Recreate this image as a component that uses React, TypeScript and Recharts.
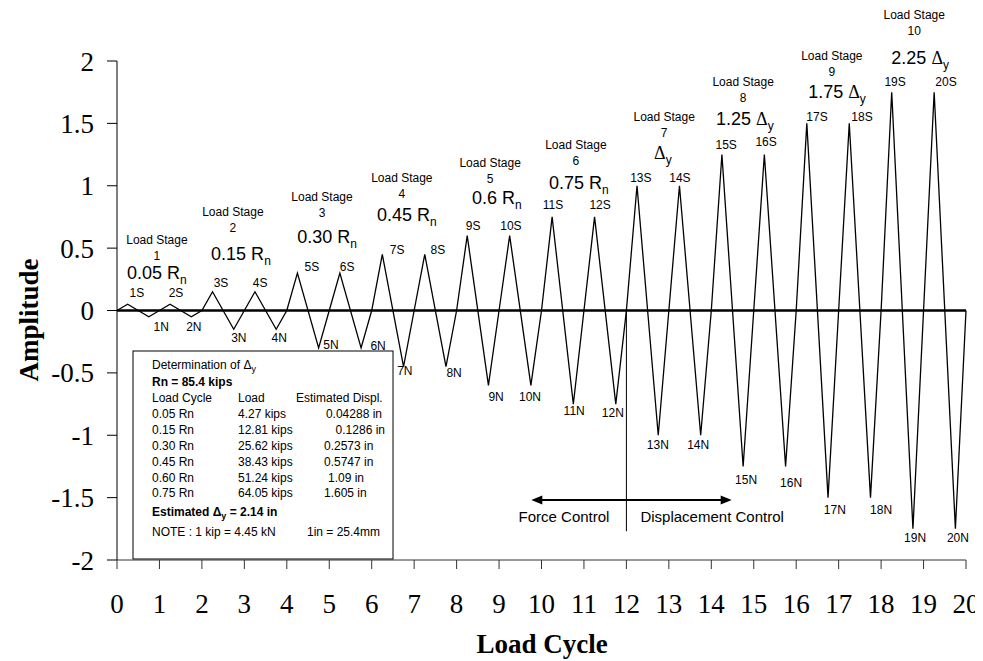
import React from 'react';
import {
  ComposedChart,
  Line,
  XAxis,
  YAxis,
  ReferenceLine,
  ReferenceDot,
  Customized,
} from 'recharts';

const SANS = '"Liberation Sans", Arial, sans-serif';
const SERIF = '"Liberation Serif", "Times New Roman", serif';

// Peak amplitude of each load cycle (1..20)
const cycleAmplitudes = [
  0.05, 0.05, 0.15, 0.15, 0.3, 0.3, 0.45, 0.45, 0.6, 0.6, 0.75, 0.75, 1, 1,
  1.25, 1.25, 1.5, 1.5, 1.75, 1.75,
];

const xTicks = [0, 1, 2, 3, 4, 5, 6, 7, 8, 9, 10, 11, 12, 13, 14, 15, 16, 17, 18, 19, 20];
const yTicks = [-2, -1.5, -1, -0.5, 0, 0.5, 1, 1.5, 2];

// Peak (S) label anchors
const peakLabels = [
  { t: '1S', x: 0.47, y: 0.144 },
  { t: '2S', x: 1.39, y: 0.144 },
  { t: '3S', x: 2.45, y: 0.225 },
  { t: '4S', x: 3.37, y: 0.225 },
  { t: '5S', x: 4.59, y: 0.353 },
  { t: '6S', x: 5.42, y: 0.353 },
  { t: '7S', x: 6.6, y: 0.49 },
  { t: '8S', x: 7.56, y: 0.49 },
  { t: '9S', x: 8.39, y: 0.68 },
  { t: '10S', x: 9.28, y: 0.68 },
  { t: '11S', x: 10.27, y: 0.85 },
  { t: '12S', x: 11.38, y: 0.85 },
  { t: '13S', x: 12.34, y: 1.067 },
  { t: '14S', x: 13.26, y: 1.067 },
  { t: '15S', x: 14.35, y: 1.33 },
  { t: '16S', x: 15.29, y: 1.356 },
  { t: '17S', x: 16.49, y: 1.557 },
  { t: '18S', x: 17.55, y: 1.557 },
  { t: '19S', x: 18.33, y: 1.838 },
  { t: '20S', x: 19.53, y: 1.838 },
];

// Trough (N) label anchors
const troughLabels = [
  { t: '1N', x: 1.04, y: -0.128 },
  { t: '2N', x: 1.81, y: -0.128 },
  { t: '3N', x: 2.87, y: -0.217 },
  { t: '4N', x: 3.82, y: -0.217 },
  { t: '5N', x: 5.04, y: -0.273 },
  { t: '6N', x: 6.15, y: -0.281 },
  { t: '7N', x: 6.78, y: -0.482 },
  { t: '8N', x: 7.94, y: -0.498 },
  { t: '9N', x: 8.93, y: -0.69 },
  { t: '10N', x: 9.73, y: -0.69 },
  { t: '11N', x: 10.77, y: -0.8 },
  { t: '12N', x: 11.68, y: -0.82 },
  { t: '13N', x: 12.74, y: -1.075 },
  { t: '14N', x: 13.69, y: -1.075 },
  { t: '15N', x: 14.82, y: -1.356 },
  { t: '16N', x: 15.88, y: -1.38 },
  { t: '17N', x: 16.91, y: -1.597 },
  { t: '18N', x: 18.0, y: -1.597 },
  { t: '19N', x: 18.8, y: -1.82 },
  { t: '20N', x: 19.81, y: -1.82 },
];

const stageNumbers = ['1', '2', '3', '4', '5', '6', '7', '8', '9', '10'];
const stageValueMain = ['0.05 R', '0.15 R', '0.30 R', '0.45 R', '0.6 R', '0.75 R', '', '1.25 ', '1.75 ', '2.25 '];
const stageValueDelta = [false, false, false, false, false, false, true, true, true, true];
const stageValueSub = ['n', 'n', 'n', 'n', 'n', 'n', 'y', 'y', 'y', 'y'];
const stageTitleX = [0.94, 2.73, 4.83, 6.71, 8.79, 10.81, 12.89, 14.75, 16.84, 18.78];
const stageTitleY = [0.57, 0.795, 0.915, 1.067, 1.188, 1.332, 1.557, 1.838, 2.039, 2.368];
const stageValueX = [0.94, 2.92, 4.95, 6.83, 8.95, 10.88, 12.86, 14.79, 16.96, 18.92];
const stageValueY = [0.305, 0.457, 0.594, 0.77, 0.907, 1.027, 1.268, 1.541, 1.758, 2.03];

const tableCycles = ['0.05 Rn', '0.15 Rn', '0.30 Rn', '0.45 Rn', '0.60 Rn', '0.75 Rn'];
const tableLoads = ['4.27 kips', '12.81 kips', '25.62 kips', '38.43 kips', '51.24 kips', '64.05 kips'];
const tableDispl = ['0.04288 in', '0.1286 in', '0.2573 in', '0.5747 in', '1.09 in', '1.605 in'];

const wave: { x: number; y: number }[] = [{ x: 0, y: 0 }];
cycleAmplitudes.forEach((a, i) => {
  wave.push({ x: i + 0.25, y: a }, { x: i + 0.75, y: -a }, { x: i + 1, y: 0 });
});

const smallText = (t: string, size = 12) => (p: any) => (
  <text
    x={p.cx}
    y={p.cy + size * 0.36}
    textAnchor="middle"
    fontSize={size}
    fontFamily={SANS}
    fill="#000"
  >
    {t}
  </text>
);

const stageTitleShape = (n: string) => (p: any) => (
  <g>
    <text x={p.cx} y={p.cy + 4.3} textAnchor="middle" fontSize={12} fontFamily={SANS} fill="#000">
      Load Stage
    </text>
    <text x={p.cx} y={p.cy + 20.3} textAnchor="middle" fontSize={12} fontFamily={SANS} fill="#000">
      {n}
    </text>
  </g>
);

const stageValueShape = (i: number) => (p: any) => (
  <text x={p.cx} y={p.cy + 6.4} textAnchor="middle" fontSize={18} fontFamily={SANS} fill="#000">
    {stageValueMain[i]}
    {stageValueDelta[i] ? <tspan fontFamily={SERIF}>Δ</tspan> : null}
    <tspan fontSize={12} dy={5}>
      {stageValueSub[i]}
    </tspan>
  </text>
);

const arrowShape = (p: any) => {
  const { x1, y1, x2, y2 } = p;
  const h = 11;
  const w = 4.5;
  return (
    <g>
      <line x1={x1 + h - 2} y1={y1} x2={x2 - h + 2} y2={y2} stroke="#000" strokeWidth={2} />
      <polygon points={`${x1},${y1} ${x1 + h},${y1 - w} ${x1 + h},${y1 + w}`} fill="#000" />
      <polygon points={`${x2},${y2} ${x2 - h},${y2 - w} ${x2 - h},${y2 + w}`} fill="#000" />
    </g>
  );
};

const Overlay = () => {
  const rowY = [406, 422, 438, 454, 470, 485];
  const displX = [374, 377, 316, 316, 320, 316];
  const displAnchor = ['end', 'end', 'start', 'start', 'start', 'start'];
  const base = 4.3;
  return (
    <g>
      <text
        transform="translate(21,312) rotate(-90)"
        textAnchor="middle"
        fontSize={27}
        fontWeight="bold"
        fontFamily={SERIF}
        fill="#000"
        y={9}
      >
        Amplitude
      </text>
      <text x={534} y={645} textAnchor="middle" fontSize={27} fontWeight="bold" fontFamily={SERIF} fill="#000">
        Load Cycle
      </text>
      <rect x={125} y={343} width={260} height={208} fill="#fff" stroke="#000" strokeWidth={1} />
      <g fontFamily={SANS} fontSize={12} fill="#000">
        <text x={144} y={357 + base}>
          Determination of Δ<tspan fontSize={9} dy={3}>y</tspan>
        </text>
        <text x={144} y={374 + base} fontWeight="bold">
          Rn = 85.4 kips
        </text>
        <text x={144} y={390 + base}>Load Cycle</text>
        <text x={230} y={390 + base}>Load</text>
        <text x={288} y={390 + base}>Estimated Displ.</text>
        {tableCycles.map((c, i) => (
          <g key={c}>
            <text x={144} y={rowY[i] + base}>{c}</text>
            <text x={230} y={rowY[i] + base}>{tableLoads[i]}</text>
            <text x={displX[i]} y={rowY[i] + base} textAnchor={displAnchor[i] as any}>
              {tableDispl[i]}
            </text>
          </g>
        ))}
        <text x={144} y={504 + base} fontWeight="bold">
          Estimated Δ<tspan fontSize={9} dy={3}>y</tspan>
          <tspan dy={-3}> = 2.14 in</tspan>
        </text>
        <text x={144} y={524 + base}>NOTE :  1 kip = 4.45 kN</text>
        <text x={299} y={524 + base}>1in = 25.4mm</text>
      </g>
    </g>
  );
};

export default function App() {
  return (
    <ComposedChart width={975} height={653} margin={{ top: 53, right: 17, bottom: 41, left: 49 }}>
      <XAxis
        type="number"
        dataKey="x"
        domain={[0, 20]}
        ticks={xTicks}
        interval={0}
        height={60}
        tickSize={9}
        tickMargin={25}
        axisLine={{ stroke: '#333' }}
        tickLine={{ stroke: '#333' }}
        tick={{ fontSize: 27, fontFamily: SERIF, fill: '#000' }}
      />
      <YAxis
        type="number"
        domain={[-2, 2]}
        ticks={yTicks}
        interval={0}
        width={60}
        tickSize={10}
        tickMargin={13}
        axisLine={{ stroke: '#000' }}
        tickLine={{ stroke: '#000' }}
        tick={{ fontSize: 27, fontFamily: SERIF, fill: '#000' }}
      />
      <Line
        data={wave}
        dataKey="y"
        type="linear"
        stroke="#000"
        strokeWidth={1.3}
        dot={false}
        activeDot={false}
        isAnimationActive={false}
      />
      <ReferenceLine y={0} stroke="#000" strokeWidth={2.5} />
      <ReferenceLine
        segment={[
          { x: 12, y: 0 },
          { x: 12, y: -1.77 },
        ]}
        stroke="#000"
        strokeWidth={1}
      />
      <ReferenceLine
        segment={[
          { x: 9.76, y: -1.52 },
          { x: 14.48, y: -1.52 },
        ]}
        shape={arrowShape}
      />
      <ReferenceDot x={10.53} y={-1.653} r={0} ifOverflow="visible" shape={smallText('Force Control', 15)} />
      <ReferenceDot x={14.02} y={-1.653} r={0} ifOverflow="visible" shape={smallText('Displacement Control', 15)} />
      {peakLabels.map((l) => (
        <ReferenceDot key={l.t} x={l.x} y={l.y} r={0} ifOverflow="visible" shape={smallText(l.t)} />
      ))}
      {troughLabels.map((l) => (
        <ReferenceDot key={l.t} x={l.x} y={l.y} r={0} ifOverflow="visible" shape={smallText(l.t)} />
      ))}
      {stageNumbers.map((n, i) => (
        <ReferenceDot
          key={'st' + n}
          x={stageTitleX[i]}
          y={stageTitleY[i]}
          r={0}
          ifOverflow="visible"
          shape={stageTitleShape(n)}
        />
      ))}
      {stageNumbers.map((n, i) => (
        <ReferenceDot
          key={'sv' + n}
          x={stageValueX[i]}
          y={stageValueY[i]}
          r={0}
          ifOverflow="visible"
          shape={stageValueShape(i)}
        />
      ))}
      <Customized component={Overlay} />
    </ComposedChart>
  );
}
